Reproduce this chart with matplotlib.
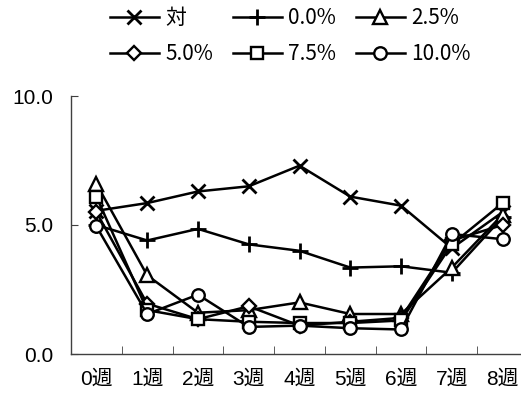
import matplotlib
matplotlib.use("Agg")
import matplotlib.pyplot as plt

plt.rcParams['font.family'] = ['Liberation Sans', 'Noto Sans CJK JP', 'DejaVu Sans']

weeks = ['0週', '1週', '2週', '3週', '4週', '5週', '6週', '7週', '8週']
series_names = ['対', '0.0%', '2.5%', '5.0%', '7.5%', '10.0%']

ctrl = [5.55, 5.85, 6.3, 6.5, 7.3, 6.1, 5.75, 4.1, 5.5]
p00 = [5.0, 4.4, 4.85, 4.25, 4.0, 3.35, 3.4, 3.15, 5.3]
p25 = [6.6, 3.05, 1.6, 1.7, 2.0, 1.55, 1.55, 3.35, 5.4]
p50 = [5.5, 1.95, 1.35, 1.85, 1.1, 1.25, 1.4, 4.4, 5.0]
p75 = [6.1, 1.7, 1.35, 1.25, 1.2, 1.2, 1.3, 4.25, 5.85]
p100 = [4.95, 1.55, 2.3, 1.05, 1.1, 1.0, 0.95, 4.65, 4.45]

markers = ['x', '+', '^', 'D', 's', 'o']
msizes = [10, 12, 9.5, 7.5, 9, 9]

fig = plt.figure(figsize=(5.21, 3.94), dpi=100)
ax = fig.add_axes([71 / 521, 40 / 394, 457 / 521, 258 / 394])

x = list(range(len(weeks)))
handles = []
for vals, name, m, ms in zip([ctrl, p00, p25, p50, p75, p100], series_names, markers, msizes):
    h, = ax.plot(x, vals, color='black', lw=1.8, marker=m, ms=ms,
                 mfc='white', mec='black', mew=1.7 if m not in ('x', '+') else 2.0,
                 label=name)
    handles.append(h)

ax.set_xlim(-0.5, 8.5)
ax.set_ylim(0, 10)
ax.set_yticks([0, 5, 10])
ax.set_yticklabels(['0.0', '5.0', '10.0'])
ax.set_xticks(x)
ax.set_xticklabels(weeks)
ax.set_xticks([i + 0.5 for i in range(8)], minor=True)

ax.tick_params(axis='x', which='major', length=0, pad=11, labelsize=15)
ax.tick_params(axis='x', which='minor', direction='in', length=6, color='#404040')
ax.tick_params(axis='y', direction='in', length=5, pad=13, labelsize=15, color='#404040')

for side in ('top', 'right'):
    ax.spines[side].set_visible(False)
for side in ('left', 'bottom'):
    ax.spines[side].set_color('#404040')
    ax.spines[side].set_linewidth(1)

# legend fills column by column, so reorder to read across rows
order = [0, 3, 1, 4, 2, 5]
leg = fig.legend([handles[i] for i in order], [series_names[i] for i in order],
                 loc='upper center', bbox_to_anchor=(0.557, 0.992), ncol=3, frameon=False,
                 prop={'family': ['Liberation Sans Narrow', 'Noto Sans CJK JP', 'DejaVu Sans'],
                       'size': 15},
                 handlelength=2.35, handletextpad=0.3, columnspacing=0.95,
                 labelspacing=0.65, borderaxespad=0, borderpad=0.2)

fig.savefig('out.png', dpi=100)
